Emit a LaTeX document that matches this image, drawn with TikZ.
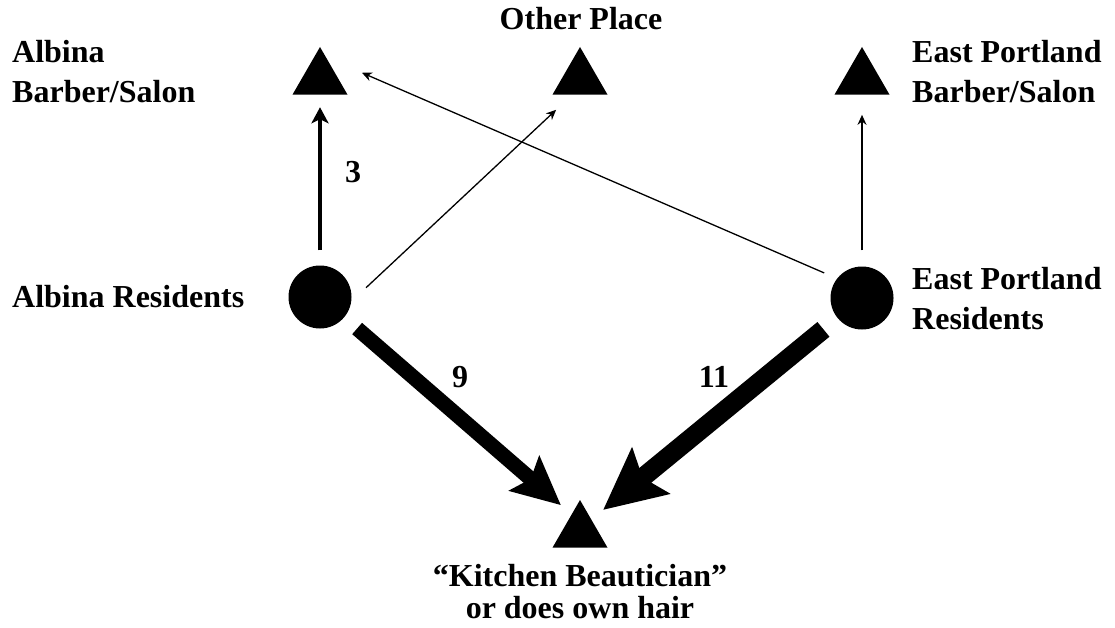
\documentclass[tikz,border=0pt]{standalone}
\usepackage{fontspec}
\setmainfont{Liberation Serif}
\usetikzlibrary{arrows.meta,shapes.geometric}
\begin{document}
\begin{tikzpicture}[x=1pt,y=-1pt,
  lbl/.style={font=\fontsize{32}{40}\selectfont\bfseries, inner sep=0pt, align=left},
  tri/.style={regular polygon, regular polygon sides=3, fill=black, draw=none, inner sep=0pt, minimum size=63.5pt},
  dot/.style={circle, fill=black, draw=none, inner sep=0pt, minimum size=63pt},
  thinarrow/.style={line width=1.3pt, -{Stealth[length=10pt,width=9pt]}},
  medarrow/.style={line width=3.5pt, -{Stealth[length=16pt,width=17pt,inset=4pt]}},
  bigarrowA/.style={line width=15pt, -{Stealth[length=48pt,width=45pt,inset=8pt]}},
  bigarrowB/.style={line width=19pt, -{Stealth[length=61pt,width=58pt,inset=10pt]}},
]
\useasboundingbox (0,0) rectangle (1115,628);
\fill[white] (0,0) rectangle (1115,628);

\node[dot] (cA) at (320,297) {};
\node[dot] (cE) at (862,298) {};
\node[tri] (tA) at (320,78.75) {};
\node[tri] (tO) at (580,78.75) {};
\node[tri] (tE) at (862,78.75) {};
\node[tri] (tK) at (580,531.75) {};

\draw[medarrow, shorten <=15pt, shorten >=12.4pt] (cA) -- (tA);
\draw[thinarrow, shorten <=20pt, shorten >=22pt] (cA.-8) -- (tO.244);
\draw[thinarrow, shorten <=14pt, shorten >=39pt] (cE.142) -- (tA.74);
\draw[thinarrow, line width=1.5pt, shorten <=16pt, shorten >=20pt] (cE) -- (tE);
\draw[bigarrowA, shorten <=17pt, shorten >=14pt] (cA.-40) -- (tK.116);
\draw[bigarrowB, shorten <=18pt, shorten >=15pt] (cE.219) -- (tK.47);

\node[lbl, anchor=base west] (lA) at (12,103) {Albina\\Barber/Salon};
\node[lbl, anchor=base] (lO) at (581,30) {Other Place};
\node[lbl, anchor=base west] (lE) at (912,103) {East Portland\\Barber/Salon};
\node[lbl, anchor=base west] (lAR) at (12,307) {Albina Residents};
\node[lbl, anchor=base west] (lER) at (912,329) {East Portland\\Residents};
\node[lbl, anchor=base, align=center, font=\fontsize{32}{32}\selectfont\bfseries] (lK) at (580,618) {“Kitchen Beautician”\\or does own hair};
\node[lbl, anchor=base] (n3) at (353,183) {3};
\node[lbl, anchor=base] (n9) at (460,387) {9};
\node[lbl, anchor=base] (n11) at (714,387) {11};
\end{tikzpicture}
\end{document}
